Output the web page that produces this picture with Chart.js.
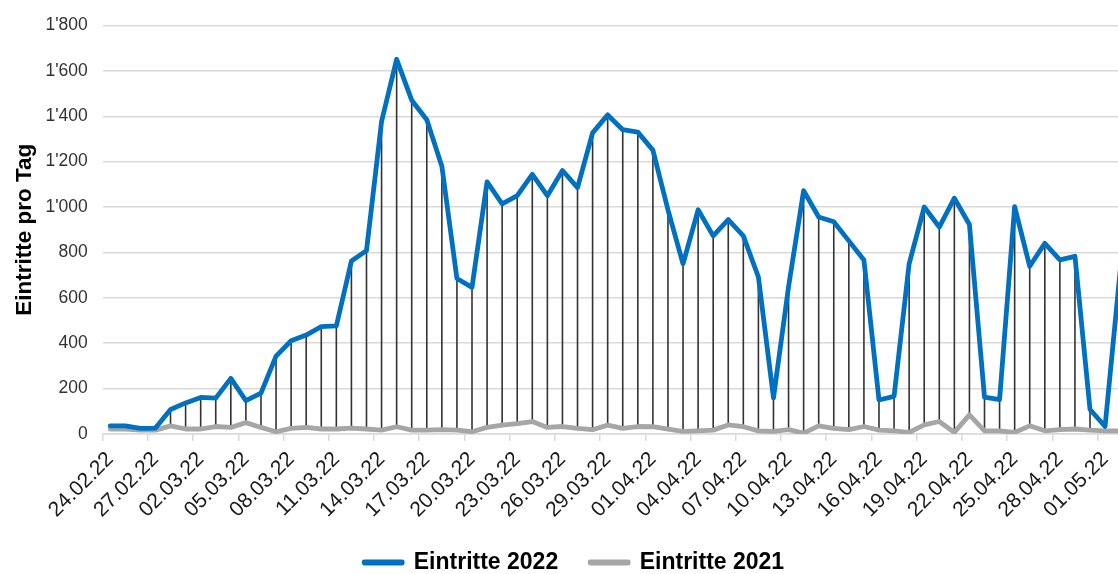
<!DOCTYPE html>
<html>
<head>
<meta charset="utf-8">
<script src="https://cdn.jsdelivr.net/npm/chart.js@4.4.1/dist/chart.umd.min.js"></script>
<style>
  html, body { margin: 0; padding: 0; background: #fff; overflow: hidden; }
  #wrap { position: relative; width: 1144px; height: 584px; }
</style>
</head>
<body>
<div id="wrap"><canvas id="chart"></canvas></div>
<script>
(function () {
    "use strict";

    // Tage (Kategorien)
    var tage = [
        "24.02.22", "25.02.22", "26.02.22", "27.02.22", "28.02.22",
        "01.03.22", "02.03.22", "03.03.22", "04.03.22", "05.03.22", "06.03.22", "07.03.22",
        "08.03.22", "09.03.22", "10.03.22", "11.03.22", "12.03.22", "13.03.22", "14.03.22",
        "15.03.22", "16.03.22", "17.03.22", "18.03.22", "19.03.22", "20.03.22", "21.03.22",
        "22.03.22", "23.03.22", "24.03.22", "25.03.22", "26.03.22", "27.03.22", "28.03.22",
        "29.03.22", "30.03.22", "31.03.22",
        "01.04.22", "02.04.22", "03.04.22", "04.04.22", "05.04.22", "06.04.22", "07.04.22",
        "08.04.22", "09.04.22", "10.04.22", "11.04.22", "12.04.22", "13.04.22", "14.04.22",
        "15.04.22", "16.04.22", "17.04.22", "18.04.22", "19.04.22", "20.04.22", "21.04.22",
        "22.04.22", "23.04.22", "24.04.22", "25.04.22", "26.04.22", "27.04.22", "28.04.22",
        "29.04.22", "30.04.22",
        "01.05.22", "02.05.22"
    ];

    // Eintritte 2022
    var eintritte2022 = [
        36, 36, 25, 26, 108,
        137, 161, 158, 245, 147, 180, 343,
        411, 436, 473, 476, 762, 808, 1377,
        1651, 1471, 1385, 1180, 685, 646, 1111,
        1014, 1050, 1144, 1050, 1161, 1086, 1327,
        1406, 1341, 1330,
        1251, 988, 750, 988, 873, 945, 873,
        692, 159, 649, 1072, 956, 935, 851,
        767, 150, 166, 750, 1000, 912, 1039,
        923, 162, 151, 1002, 739, 840, 767,
        783, 108,
        34, 720
    ];

    // Eintritte 2021
    var eintritte2021 = [
        22, 22, 17, 17, 36,
        22, 22, 33, 29, 50, 29, 10,
        25, 29, 22, 22, 26, 22, 17,
        32, 17, 17, 19, 17, 10, 29,
        39, 46, 55, 29, 33, 25, 19,
        39, 25, 33,
        32, 22, 12, 14, 17, 40, 32,
        14, 12, 19, 4, 36, 25, 19,
        33, 17, 14, 7, 40, 55, 7,
        84, 14, 14, 7, 36, 14, 19,
        22, 17,
        14, 14
    ];

    var yMin = 0, yMax = 1800, yStep = 200;

    Chart.defaults.font.family = "'Liberation Sans', Arial, sans-serif";
    Chart.defaults.color = "#262626";

    function tausender(v) {
        return String(v).replace(/\B(?=(\d{3})+(?!\d))/g, "'");
    }

    // Hoch-Tief-Linien zwischen den beiden Reihen
    var dropLines = {
        id: "dropLines",
        beforeDatasetsDraw: function (chart) {
            var a = chart.getDatasetMeta(0).data;
            var b = chart.getDatasetMeta(1).data;
            var ctx = chart.ctx;
            ctx.save();
            ctx.strokeStyle = "#333";
            ctx.lineWidth = 1.6;
            ctx.beginPath();
            for (var i = 0; i < a.length && i < b.length; i++) {
                ctx.moveTo(a[i].x, a[i].y);
                ctx.lineTo(b[i].x, b[i].y);
            }
            ctx.stroke();
            ctx.restore();
        }
    };

    // Legende etwas nach rechts
    var legendShift = {
        id: "legendShift",
        afterLayout: function (chart) {
            if (chart.legend) {
                chart.legend.left += 3;
                chart.legend.right += 3;
            }
        }
    };

    new Chart(document.getElementById("chart"), {
        type: "line",
        data: {
            labels: tage,
            datasets: [{
                label: "Eintritte 2022",
                data: eintritte2022,
                borderColor: "#0070c0",
                backgroundColor: "#0070c0",
                borderWidth: 4.8,
                borderJoinStyle: "round",
                borderCapStyle: "round",
                pointRadius: 0,
                tension: 0,
                order: 1
            }, {
                label: "Eintritte 2021",
                data: eintritte2021,
                borderColor: "#a6a6a6",
                backgroundColor: "#a6a6a6",
                borderWidth: 4.8,
                borderJoinStyle: "round",
                borderCapStyle: "round",
                pointRadius: 0,
                tension: 0,
                order: 2
            }]
        },
        options: {
            responsive: true,
            maintainAspectRatio: false,
            animation: false,
            events: [],
            layout: { padding: { top: 9.3, right: 1.6, left: 0, bottom: 0 } },
            plugins: {
                tooltip: { enabled: false },
                legend: {
                    position: "bottom",
                    labels: {
                        boxWidth: 38,
                        boxHeight: 1,
                        padding: 32,
                        color: "#000",
                        font: { size: 23, weight: "bold" }
                    }
                }
            },
            scales: {
                x: {
                    offset: true,
                    grid: {
                        offset: true,
                        drawOnChartArea: false,
                        tickLength: 7,
                        lineWidth: 1.5,
                        color: function (c) {
                            return c.index % 3 === 0 ? "#d9d9d9" : "rgba(0,0,0,0)";
                        }
                    },
                    border: { color: "#d9d9d9", width: 1.5 },
                    ticks: {
                        autoSkip: false,
                        minRotation: 45,
                        maxRotation: 45,
                        padding: 6,
                        color: "#1a1a1a",
                        font: { size: 21 },
                        callback: function (v, i) {
                            return i % 3 === 0 ? this.getLabelForValue(v) : "";
                        }
                    },
                    afterFit: function (s) { s.height = 85; }
                },
                y: {
                    min: yMin,
                    max: yMax,
                    grid: { color: "#d9d9d9", lineWidth: 1.5, drawTicks: false },
                    border: { display: false },
                    ticks: {
                        stepSize: yStep,
                        padding: 15,
                        color: "#333",
                        font: { size: 17.5 },
                        callback: function (v) { return tausender(v); }
                    },
                    title: {
                        display: true,
                        text: "Eintritte pro Tag",
                        color: "#000",
                        font: { size: 22.5, weight: "bold" },
                        padding: { top: 11, bottom: 0 }
                    },
                    afterFit: function (s) { s.width = 102.7; }
                }
            }
        },
        plugins: [dropLines, legendShift]
    });
})();
</script>
</body>
</html>
